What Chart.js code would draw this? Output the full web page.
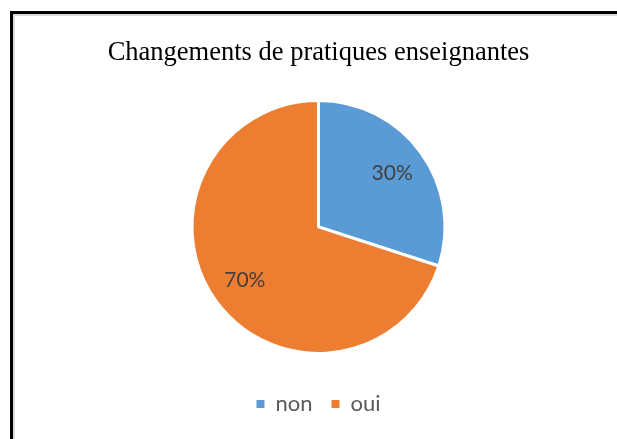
<!DOCTYPE html>
<html>
<head>
<meta charset="utf-8">
<script src="https://cdn.jsdelivr.net/npm/chart.js@4/dist/chart.umd.min.js"></script>
<style>
  html, body { margin: 0; padding: 0; background: #fff; }
  #wrap { position: relative; width: 617px; height: 439px; overflow: hidden; }
  #frame {
    position: absolute; left: 10px; top: 11px; width: 700px; height: 500px;
    border-left: 3px solid #000; border-top: 3px solid #000;
    box-shadow: inset 2px 2px 0 #d9d9d9;
  }
  canvas { position: absolute; left: 0; top: 0; }
</style>
</head>
<body>
<div id="wrap">
  <div id="frame"></div>
  <canvas id="pieChart" width="617" height="439"></canvas>
</div>
<script>
// chart data
const titleText = "Changements de pratiques enseignantes";
const categories = ["non", "oui"];
const shares = [30, 70];
const sliceColors = ["#5b9bd5", "#ed7d31"];

// draws "30%" / "70%" inside the slices
const sliceLabels = {
    id: "sliceLabels",
    afterDatasetsDraw(chart) {
        const ctx = chart.ctx;
        const meta = chart.getDatasetMeta(0);
        ctx.save();
        ctx.font = "21px Lato";
        ctx.fillStyle = "#404040";
        ctx.textAlign = "center";
        ctx.textBaseline = "middle";
        meta.data.forEach((arc, i) => {
            const mid = (arc.startAngle + arc.endAngle) / 2;
            const r = arc.outerRadius * 0.72;
            ctx.fillText(shares[i] + "%", arc.x + Math.cos(mid) * r, arc.y + Math.sin(mid) * r);
        });
        ctx.restore();
    }
};

new Chart(document.getElementById("pieChart").getContext("2d"), {
    type: "pie",
    data: {
        labels: categories,
        datasets: [{
            data: shares,
            backgroundColor: sliceColors,
            borderColor: "#ffffff",
            borderWidth: 3,
            radius: 126.5
        }]
    },
    options: {
        responsive: false,
        animation: false,
        layout: { padding: { top: 0, bottom: 14, left: 20 } },
        plugins: {
            title: {
                display: true,
                text: titleText,
                color: "#000",
                font: { family: "'Liberation Serif'", size: 26.5, weight: "normal" },
                padding: { top: 37, bottom: 11 }
            },
            legend: {
                position: "bottom",
                labels: {
                    color: "#595959",
                    font: { family: "Lato", size: 22 },
                    boxWidth: 8,
                    boxHeight: 8,
                    padding: 19,
                    generateLabels(chart) {
                        const items = Chart.overrides.pie.plugins.legend.labels.generateLabels(chart);
                        items.forEach(it => { it.lineWidth = 0; it.strokeStyle = it.fillStyle; });
                        return items;
                    }
                }
            },
            tooltip: { enabled: false }
        }
    },
    plugins: [sliceLabels]
});
</script>
</body>
</html>
